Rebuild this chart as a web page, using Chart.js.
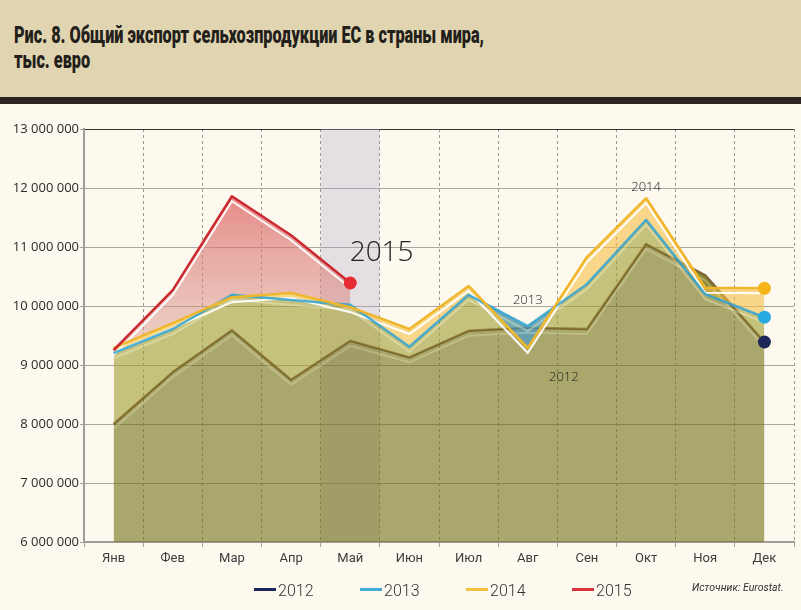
<!DOCTYPE html>
<html lang="ru">
<head>
<meta charset="utf-8">
<title>Общий экспорт сельхозпродукции ЕС</title>
<script src="https://cdn.jsdelivr.net/npm/chart.js@4.4.1/dist/chart.umd.min.js"></script>
<style>
  html, body { margin: 0; padding: 0; }
  body {
    width: 801px; height: 610px; position: relative; overflow: hidden;
    background: #fdf9ef; font-family: "Open Sans", sans-serif;
  }
  .head { position: absolute; left: 0; top: 0; width: 801px; height: 97px; background: #e1d4b1; }
  .head h1 {
    position: absolute; left: 14px; top: 23px; margin: 0; white-space: nowrap;
    font: 900 23px/25px Roboto, sans-serif;
    color: #231f1b; transform-origin: 0 0;
  }
  .head h1 span { display: inline-block; }
  .bar { position: absolute; left: 0; top: 97px; width: 801px; height: 7px; background: #2b2621; }
  #wrap { position: absolute; left: 0; top: 104px; width: 801px; height: 506px; }
  #legend { position: absolute; left: 254px; top: 578px; height: 20px; white-space: nowrap; }
  #legend .item { display: inline-block; width: 106px; height: 20px; }
  #legend .mark { display: inline-block; width: 22px; height: 3px; vertical-align: middle; margin-right: 2px; position: relative; top: -1px; }
  #legend .txt { font: 300 16px/20px Roboto, sans-serif; color: #333; vertical-align: middle; }
  .source {
    position: absolute; left: 692px; top: 580px;
    font: italic 10.5px/16px Roboto, sans-serif; color: #333;
  }
</style>
</head>
<body>
<div class="head"><h1><span class="l1">Рис. 8. Общий экспорт сельхозпродукции ЕС в страны мира,</span><br><span>тыс. евро</span></h1></div>
<div class="bar"></div>
<div id="wrap"><canvas id="chart" width="801" height="506"></canvas></div>
<div id="legend"></div>
<div class="source">Источник: Eurostat.</div>

<script>
// --- данные ---
const months = ["Янв", "Фев", "Мар", "Апр", "Май", "Июн", "Июл", "Авг", "Сен", "Окт", "Ноя", "Дек"];
const years = ["2012", "2013", "2014", "2015"];

const export2012 = [8000000, 8880000, 9590000, 8750000, 9410000, 9130000, 9580000, 9630000, 9610000, 11050000, 10520000, 9390000];
const export2013 = [9200000, 9610000, 10190000, 10100000, 10020000, 9310000, 10190000, 9660000, 10370000, 11460000, 10200000, 9810000];
const export2014 = [9290000, 9710000, 10150000, 10220000, 9980000, 9610000, 10340000, 9290000, 10830000, 11830000, 10310000, 10300000];
const export2015 = [9250000, 10270000, 11860000, 11200000, 10390000, null, null, null, null, null, null, null];

const yMin = 6000000;
const yMax = 13000000;
const yStep = 1000000;

const highlightMonth = "Май";

// подписи лет прямо на графике
const yearNotes = [
  { text: "2015", month: 4.53, value: 10900000, size: 28 },
  { text: "2013", month: 7.0, value: 10100000, size: 13 },
  { text: "2014", month: 9.0, value: 12020000, size: 13 },
  { text: "2012", month: 7.61, value: 8800000, size: 13 },
];

const lineColors = ["#87614e", "rgba(47,163,211,0.85)", "#f0b72c", "#cc2a31"];
const dotColors = ["#1d2758", "#29a9e1", "#f5b519", "#e52b2f"];
const legendColors = ["#1d2758", "#3eaed8", "#f2c13e", "#d8323a"];

function fmt(v) {
  return String(v).replace(/\B(?=(\d{3})+(?!\d))/g, " ");
}

function lastIndex(arr) {
  for (let i = arr.length - 1; i >= 0; i--) if (arr[i] !== null) return i;
  return -1;
}

function lineSet(label, data, color, dot, order, showDot) {
  const last = lastIndex(data);
  return {
    label, data, order,
    borderColor: color,
    borderWidth: 2.5,
    fill: false,
    tension: 0,
    borderJoinStyle: "round",
    pointRadius: (c) => (showDot && c.dataIndex === last ? 6.5 : 0),
    pointBackgroundColor: dot,
    pointBorderWidth: 0,
    pointHoverRadius: 0,
  };
}

function dotSet(label, data, dot, order) {
  const last = lastIndex(data);
  return {
    label, data, order,
    showLine: false,
    pointRadius: (c) => (c.dataIndex === last ? 6.5 : 0),
    pointBackgroundColor: dot,
    pointBorderWidth: 0,
    pointHoverRadius: 0,
  };
}

function areaSet(label, data, fill, color, order) {
  return {
    label, data, fill, order,
    backgroundColor: color,
    borderWidth: 0,
    tension: 0,
    pointRadius: 0,
    pointHoverRadius: 0,
  };
}

function pinkGradient(c) {
  const { chart } = c;
  const { chartArea, scales } = chart;
  if (!chartArea || !scales.y) return "rgba(222,120,115,0.6)";
  const g = chart.ctx.createLinearGradient(0, scales.y.getPixelForValue(11900000), 0, scales.y.getPixelForValue(9500000));
  g.addColorStop(0, "rgba(220,95,95,0.72)");
  g.addColorStop(1, "rgba(215,150,140,0.45)");
  return g;
}

// фиолетовая полоса за май
const bandPlugin = {
  id: "may-band",
  beforeDatasetsDraw(chart) {
    const { ctx, chartArea, scales } = chart;
    const i = months.indexOf(highlightMonth);
    const x0 = scales.x.getPixelForValue(i - 0.5);
    const x1 = scales.x.getPixelForValue(i + 0.5);
    ctx.save();
    ctx.fillStyle = "rgba(175,160,195,0.3)";
    ctx.fillRect(x0, chartArea.top, x1 - x0, chartArea.bottom - chartArea.top);
    ctx.restore();
  },
};

// светлые полоски под линиями (рисуются поверх заливок, под линиями 2013-2015)
const stripePlugin = {
  id: "stripes",
  afterDatasetDraw(chart, args) {
    if (args.index !== 4) return;
    const { ctx, chartArea } = chart;
    ctx.save();
    ctx.beginPath();
    ctx.rect(chartArea.left, chartArea.top, chartArea.width, chartArea.height);
    ctx.clip();
    [[0, "rgba(255,250,215,0.25)"], [5, "rgba(255,250,215,0.35)"], [6, "rgba(255,255,255,0.95)"], [7, "rgba(255,255,255,0.9)"]].forEach(([idx, col]) => {
      const pts = chart.getDatasetMeta(idx).data.filter((p) => !p.skip);
      ctx.strokeStyle = col;
      ctx.lineWidth = 2;
      ctx.beginPath();
      pts.forEach((p, k) => (k ? ctx.lineTo(p.x, p.y + 5) : ctx.moveTo(p.x, p.y + 5)));
      ctx.stroke();
    });
    ctx.restore();
  },
};

const notesPlugin = {
  id: "year-notes",
  afterDatasetsDraw(chart) {
    const { ctx, scales } = chart;
    ctx.save();
    ctx.fillStyle = "#222";
    ctx.textAlign = "center";
    ctx.textBaseline = "middle";
    yearNotes.forEach((n) => {
      ctx.font = "300 " + n.size + "px 'Open Sans', sans-serif";
      ctx.fillText(n.text, scales.x.getPixelForValue(n.month), scales.y.getPixelForValue(n.value));
    });
    ctx.restore();
  },
};

function fitTitle() {
  const h1 = document.querySelector(".head h1");
  const w = h1.querySelector(".l1").getBoundingClientRect().width;
  h1.style.transform = "scaleX(" + (470 / w) + ")";
}

function main() {
  fitTitle();

  const ctx = document.getElementById("chart").getContext("2d");

  new Chart(ctx, {
    type: "line",
    data: {
      labels: months,
      datasets: [
        lineSet(years[0], export2012, lineColors[0], dotColors[0], 10, false),            // 0
        areaSet("f2012", export2012, "start", "rgba(113,112,18,0.6)", 9),                 // 1
        areaSet("f2013", export2013, { target: 1, above: "rgba(160,157,48,0.6)", below: "rgba(113,112,18,0.55)" }, "rgba(160,157,48,0.6)", 8), // 2
        areaSet("f2014", export2014, { target: 2, above: "rgba(245,191,71,0.6)", below: "rgba(60,155,215,0.6)" }, "rgba(245,191,71,0.6)", 7), // 3
        areaSet("f2015", export2015, { target: 3 }, pinkGradient, 6),                      // 4
        lineSet(years[1], export2013, lineColors[1], dotColors[1], 5, true),              // 5
        lineSet(years[2], export2014, lineColors[2], dotColors[2], 4, true),              // 6
        lineSet(years[3], export2015, lineColors[3], dotColors[3], 3, true),              // 7
        dotSet("d2012", export2012, dotColors[0], 2),                                     // 8
      ],
    },
    options: {
      responsive: false,
      animation: false,
      events: [],
      spanGaps: false,
      layout: { padding: { left: 0, right: 7, top: 25, bottom: 0 } },
      plugins: {
        legend: { display: false },
        tooltip: { enabled: false },
      },
      scales: {
        x: {
          offset: true,
          grid: {
            offset: true,
            color: (c) => (c.index === months.length ? "#3a3530" : "#9c9890"),
            lineWidth: 1,
            tickLength: 5,
            tickColor: "#a09c98",
          },
          border: { color: "#a09c98", width: 2, dash: (c) => (c.index === months.length ? [] : [3, 3]) },
          ticks: { color: "#3c3c3c", font: { family: "Roboto, sans-serif", size: 13 }, padding: 4, autoSkip: false, maxRotation: 0 },
          afterFit: (s) => { s.height = 68; },
        },
        y: {
          min: yMin,
          max: yMax,
          ticks: {
            stepSize: yStep,
            color: "#2a2a2a",
            font: { family: "'Open Sans', sans-serif", size: 13 },
            padding: 1,
            callback: (v) => fmt(v),
          },
          grid: {
            color: (c) => (c.tick && c.tick.value === yMax ? "#3a3530" : "#aaa6a0"),
            lineWidth: 1,
            tickLength: 4,
            tickColor: "#a09c98",
          },
          border: { color: "#a09c98", width: 2 },
          afterFit: (s) => { s.width = 84; },
        },
      },
    },
    plugins: [bandPlugin, stripePlugin, notesPlugin],
  });

  const legend = document.getElementById("legend");
  years.forEach((y, i) => {
    const item = document.createElement("span");
    item.className = "item";
    item.innerHTML = '<span class="mark" style="background:' + legendColors[i] + '"></span><span class="txt">' + y + "</span>";
    legend.appendChild(item);
  });
}

main();
</script>
</body>
</html>
